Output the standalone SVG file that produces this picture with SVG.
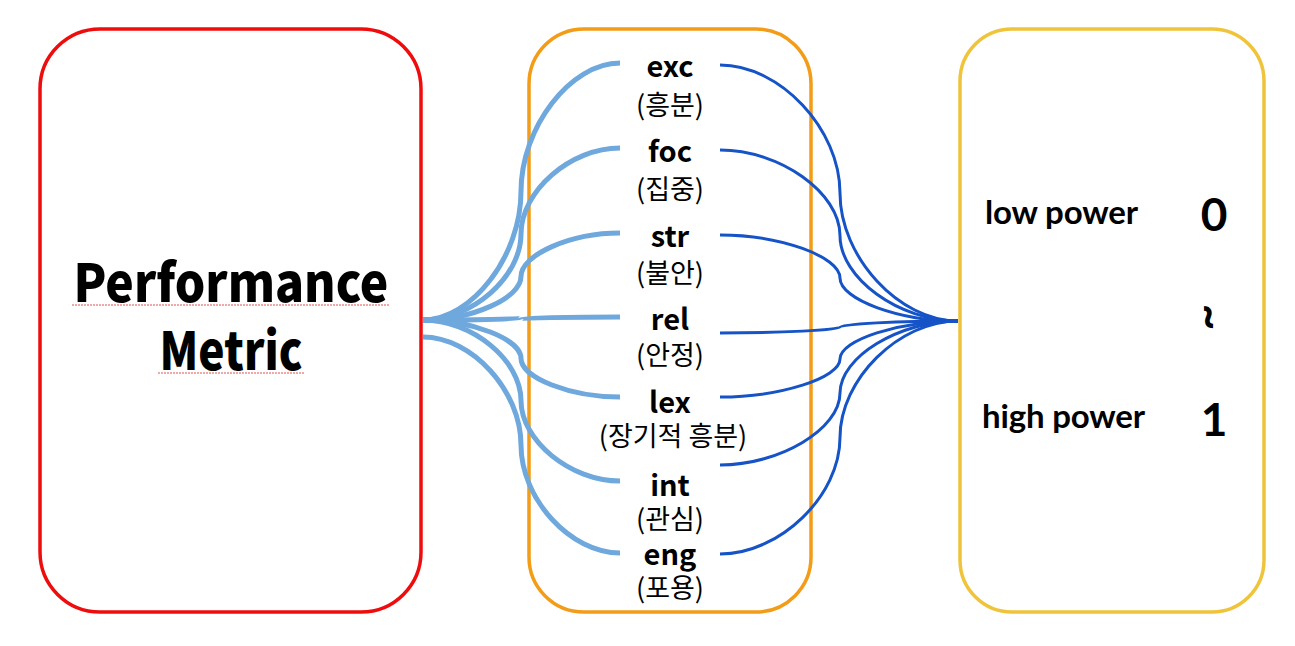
<svg xmlns="http://www.w3.org/2000/svg" width="1295" height="646" viewBox="0 0 1295 646">
<style>
.box{fill:#fff;stroke-width:3.5}
.lb{fill:none;stroke:#6fa8dc;stroke-width:5;stroke-linecap:butt}
.db{fill:none;stroke:#1553c7;stroke-width:3}
.en{font-family:"Noto Sans CJK KR","Noto Sans",sans-serif;font-weight:bold;font-size:29px;fill:#000;text-anchor:middle}
.ko{font-family:"Noto Sans CJK KR",sans-serif;font-size:27px;fill:#000;text-anchor:middle}
.big{font-family:"Noto Sans CJK KR","Noto Sans",sans-serif;font-weight:900;font-size:52px;fill:#000;text-anchor:middle}
.rt{font-family:Lato,"Liberation Sans",sans-serif;font-weight:bold;font-size:33px;fill:#000}
.num{font-family:Lato,"Liberation Sans",sans-serif;font-weight:bold;font-size:46px;fill:#000;text-anchor:middle}
.sq{fill:none;stroke:#e05050;stroke-width:1;stroke-dasharray:2 1}
</style>
<rect width="1295" height="646" fill="#fff"/>
<g id="performance-metric">
<rect class="box" x="40" y="29" width="381" height="583" rx="60" stroke="#ee0c0c"/>
<text class="big" x="231" y="302" textLength="315" lengthAdjust="spacingAndGlyphs">Performance</text>
<text class="big" x="231" y="370" textLength="143" lengthAdjust="spacingAndGlyphs">Metric</text>
<path class="sq" d="M72,305 H390"/>
<path class="sq" d="M158,373 H305"/>
</g>
<g id="metrics">
<rect class="box" x="529" y="29" width="282" height="583" rx="55" stroke="#f39c18"/>
</g>
<g id="power">
<rect class="box" x="960" y="29" width="304" height="583" rx="52" stroke="#f0c43a"/>
<text class="rt" x="985" y="224" textLength="153">low power</text>
<text class="num" x="1214" y="231">0</text>
<text class="num" x="0" y="0" transform="translate(1212,317) rotate(90)" dominant-baseline="central" font-size="62">~</text>
<text class="rt" x="982" y="428" textLength="163">high power</text>
<text class="num" x="1214" y="436">1</text>
</g>
<g id="connectors">
<path class="lb" d="M423,320 C472,320 521,255.75 521,191.5 C521,127.25 570.5,63 620,63"/>
<path class="lb" d="M423,320 C472,320 521,277 521,234 C521,191 570.5,148 620,148"/>
<path class="lb" d="M423,320 C472,320 521,298.25 521,276.5 C521,254.75 570.5,233 620,233"/>
<path class="lb" d="M423,320 C472,320 521,319 521,318.5 C521,318 570,317 620,317"/>
<path class="lb" d="M423,320 C472,320 521,339.25 521,358.5 C521,377.75 570.5,397 620,397"/>
<path class="lb" d="M423,320 C472,320 521,360.25 521,400.5 C521,440.75 570.5,481 620,481"/>
<path class="lb" d="M423,337 C472,337 521,391 521,445 C521,499 570.5,553 620,553"/>
<path class="db" d="M720,65 C780,65 840,129 840,193 C840,257 899,321 958,321"/>
<path class="db" d="M720,150 C780,150 840,192.75 840,235.5 C840,278.25 899,321 958,321"/>
<path class="db" d="M720,235 C780,235 840,256.5 840,278 C840,299.5 899,321 958,321"/>
<path class="db" d="M720,333 C780,333 840,330 840,327 C840,324 899,321 958,321"/>
<path class="db" d="M720,397 C780,397 840,378 840,359 C840,340 899,321 958,321"/>
<path class="db" d="M720,465 C780,465 840,429 840,393 C840,357 899,321 958,321"/>
<path class="db" d="M720,554 C780,554 840,495.75 840,437.5 C840,379.25 899,321 958,321"/>
</g>
<g id="exc"><text class="en" x="670" y="77">exc</text><text class="ko" x="670" y="115">(흥분)</text></g>
<g id="foc"><text class="en" x="670" y="162">foc</text><text class="ko" x="670" y="199">(집중)</text></g>
<g id="str"><text class="en" x="670" y="247">str</text><text class="ko" x="670" y="283">(불안)</text></g>
<g id="rel"><text class="en" x="670" y="330">rel</text><text class="ko" x="670" y="365">(안정)</text></g>
<g id="lex"><text class="en" x="670" y="413">lex</text><text class="ko" x="673" y="446">(장기적 흥분)</text></g>
<g id="int"><text class="en" x="670" y="496">int</text><text class="ko" x="670" y="529">(관심)</text></g>
<g id="eng"><text class="en" x="670" y="565">eng</text><text class="ko" x="670" y="598">(포용)</text></g>
</svg>
